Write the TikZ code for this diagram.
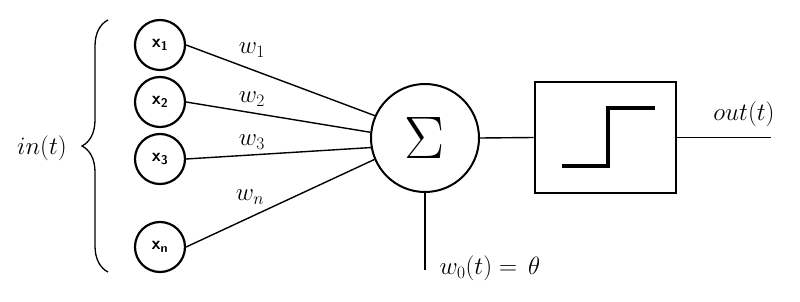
\RequirePackage{fix-cm}
\documentclass[tikz,border=0pt]{standalone}
\usepackage{amsmath,amssymb}
\usepackage{tikz}
\usetikzlibrary{decorations.pathreplacing}

\begin{document}
\begin{tikzpicture}[x=1pt,y=-1pt,
    inp/.style={circle,draw,line width=2.2pt,minimum size=50pt,inner sep=0pt,
      font=\sffamily\bfseries\fontsize{18}{20}\selectfont},
    lbl/.style={font=\fontsize{25}{29}\selectfont},
    wire/.style={line width=1.4pt}]
  \useasboundingbox (0,0) rectangle (800,302);
  % inputs
  \foreach \n/\y in {1/45,2/102,3/159,n/247}{
    \node[inp] (x\n) at (160,\y) {x\textsubscript{\n}};
  }
  \draw[line width=1.3pt,decorate,decoration={brace,amplitude=26pt}] (108,272) -- (108,20);
  \node[lbl] (in) at (42,148) {$in(t)$};
  % summation
  \node[circle,draw,line width=2pt,minimum size=108pt,inner sep=0pt] (s) at (425,138)
    {\fontsize{60}{64}\selectfont$\Sigma$};
  \foreach \n/\a in {1/156,2/174,3/190,n/203}{\draw[wire] (x\n.east) -- (s.\a);}
  \node[lbl] (w1) at (252,50) {$w_1$};
  \node[lbl] (w2) at (252,99) {$w_2$};
  \node[lbl] (w3) at (252,142) {$w_3$};
  \node[lbl] (wn) at (250,197) {$w_n$};
  % bias
  \coordinate (b) at (425,270);
  \draw[wire] (s.south) -- (b);
  \node[lbl,anchor=west] (w0) at (436,268) {$w_0(t)=\,\theta$};
  % step function
  \node[draw,line width=2.6pt,minimum width=141pt,minimum height=111pt] (f) at (605.5,137.5) {};
  \draw[wire] (s.east) -- (f.west);
  \draw[line width=4.2pt] ([shift={(-44,28.5)}]f.center) -- ([shift={(2.5,28.5)}]f.center)
    -- ([shift={(2.5,-29.5)}]f.center) -- ([shift={(49,-29.5)}]f.center);
  \coordinate (o) at (771,137.5);
  \draw[wire] (f.east) -- (o);
  \node[lbl] (out) at (744,114) {$out(t)$};
\end{tikzpicture}
\end{document}
